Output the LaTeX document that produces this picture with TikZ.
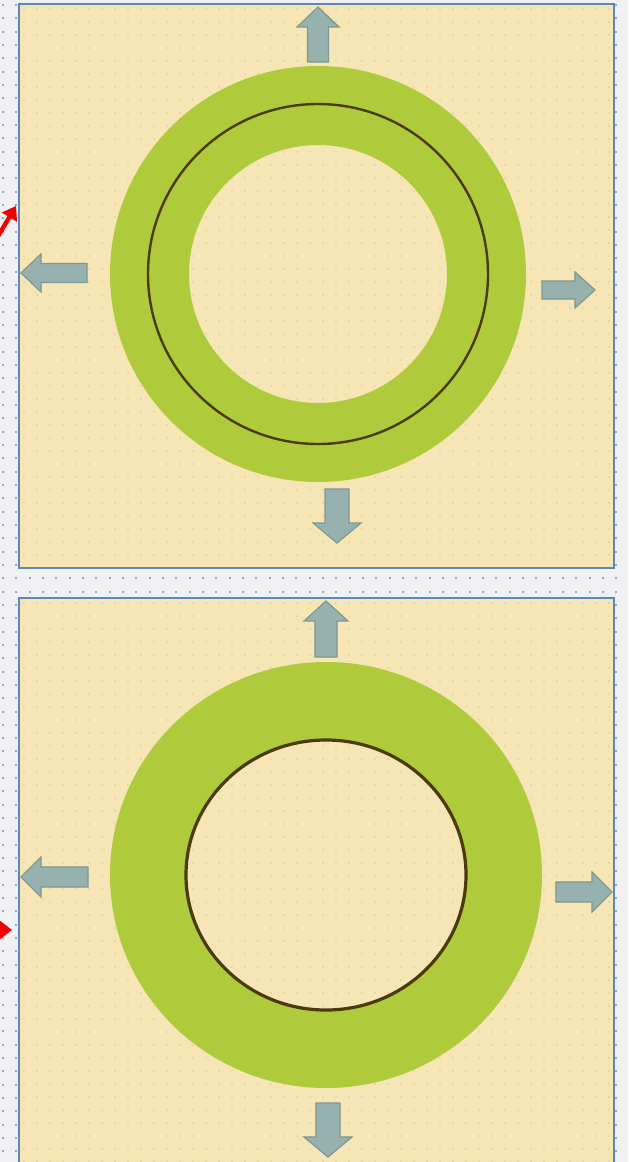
\documentclass[tikz,border=0pt]{standalone}
\usepackage{tikz}
\usetikzlibrary{arrows.meta}
\definecolor{pageGray}{HTML}{F1F1F3}
\definecolor{gridBlue}{HTML}{86A9D8}
\definecolor{panelSand}{HTML}{F6E5B5}
\definecolor{sandDot}{HTML}{DCCB94}
\definecolor{frameBlue}{HTML}{5D87BB}
\definecolor{ringGreen}{HTML}{AFCB3B}
\definecolor{lineBrown}{HTML}{4B3A0C}
\definecolor{arrowTeal}{HTML}{97B2AE}
\definecolor{arrowEdge}{HTML}{7E9893}
\definecolor{markRed}{HTML}{F00000}

% block arrow: base point, direction, length, head half-width
\newcommand{\blockarrow}[4]{%
  \draw[arrowbox,shift={#1},rotate=#2]
    (0,-#4/2) -- (#3-20,-#4/2) -- (#3-20,-#4) -- (#3,0)
    -- (#3-20,#4) -- (#3-20,#4/2) -- (0,#4/2) -- cycle;}

\begin{document}
\begin{tikzpicture}[x=0.5pt, y=-0.5pt, >=Stealth,
  panel/.style={fill=panelSand,draw=frameBlue,line width=1.1pt},
  arrowbox/.style={fill=arrowTeal,draw=arrowEdge,line width=0.6pt,line join=miter},
  ringfill/.style={fill=ringGreen,even odd rule},
  rim/.style={draw=lineBrown}]
\useasboundingbox (0,0) rectangle (628,1162);
% --- page with dotted grid ---
\fill[pageGray] (0,0) rectangle (628,1162);
\foreach \i in {0,...,47}
  \foreach \j in {0,...,87}
    \fill[gridBlue] (\i*13.33+2,\j*13.33+4) rectangle +(2,2);

% --- upper panel ---
\begin{scope}
  \fill[panelSand] (19,4) rectangle (614,568);
  \begin{scope}
    \clip (19,4) rectangle (614,568);
    \foreach \i in {0,...,45}
      \foreach \j in {0,...,43}
        \fill[sandDot] (\i*13+24,\j*13+9) circle (0.9);
  \end{scope}
  \draw[panel,fill=none] (19,4) rectangle (614,568);
  \coordinate (c1) at (318,274);
  \fill[ringfill] (c1) circle (208) (c1) circle (129);
  \draw[rim,line width=1.2pt] (c1) circle (170);
  \blockarrow{(318,62)}{90}{55}{21}
  \blockarrow{(87,273)}{180}{66}{19}
  \blockarrow{(542,290)}{0}{53}{18}
  \blockarrow{(337,489)}{-90}{54}{24}
\end{scope}

% --- lower panel ---
\begin{scope}
  \fill[panelSand] (19,598) rectangle (614,1170);
  \begin{scope}
    \clip (19,598) rectangle (614,1162);
    \foreach \i in {0,...,45}
      \foreach \j in {0,...,43}
        \fill[sandDot] (\i*13+24,\j*13+603) circle (0.9);
  \end{scope}
  \draw[panel,fill=none] (19,1170) -- (19,598) -- (614,598) -- (614,1170);
  \coordinate (c2) at (326,875);
  \fill[ringfill] (c2) ellipse [x radius=216, y radius=213]
                  (c2) ellipse [x radius=140, y radius=135];
  \draw[rim,line width=1.6pt] (c2) ellipse [x radius=140, y radius=135];
  \blockarrow{(326,657)}{90}{56}{22}
  \blockarrow{(88,877)}{180}{67}{20}
  \blockarrow{(556,892)}{0}{56}{20}
  \blockarrow{(328,1103)}{-90}{54}{24}
\end{scope}

% --- red markers at the left edge ---
\coordinate (redTail) at (-6,243);
\coordinate (redTip) at (16,206);
\draw[markRed,line width=2.2pt,-{Triangle[length=6.5pt,width=8.5pt]}] (redTail) -- (redTip);
\coordinate (redTop) at (-1,920);
\coordinate (redPoint) at (12,930);
\coordinate (redLow) at (-1,940);
\fill[markRed] (redTop) -- (redPoint) -- (redLow) -- cycle;
\end{tikzpicture}
\end{document}
